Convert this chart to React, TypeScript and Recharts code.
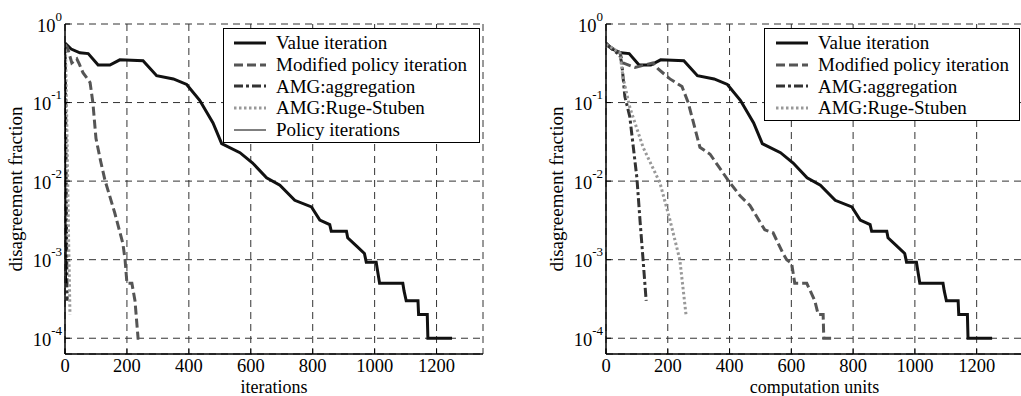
import React from 'react';
import { LineChart, Line, XAxis, YAxis, CartesianGrid, Legend } from 'recharts';

const FONT = '"Liberation Serif", "Times New Roman", serif';

// ---- axes ----
const X_DOMAIN = [0, 1350];
const X_TICKS = [0, 200, 400, 600, 800, 1000, 1200];
const X_TOP_TICKS = [200, 400, 600, 800, 1000, 1200];
const Y_DOMAIN = [6.3e-5, 1];
const Y_TICKS = [1e-4, 1e-3, 1e-2, 1e-1, 1];
const Y_MINOR_TICKS = [
  7e-5, 8e-5, 9e-5,
  2e-4, 3e-4, 4e-4, 5e-4, 6e-4, 7e-4, 8e-4, 9e-4,
  2e-3, 3e-3, 4e-3, 5e-3, 6e-3, 7e-3, 8e-3, 9e-3,
  2e-2, 3e-2, 4e-2, 5e-2, 6e-2, 7e-2, 8e-2, 9e-2,
  0.2, 0.3, 0.4, 0.5, 0.6, 0.7, 0.8, 0.9,
];

// ---- Value iteration (same in iterations and computation units) ----
const VI_X = [0, 20, 48, 75, 107, 145, 177, 252, 296, 350, 393, 435, 478, 506, 565, 606, 651, 694, 742, 796, 823, 855, 860, 909, 913, 941, 967, 973, 1005, 1016, 1091, 1095, 1102, 1140, 1142, 1170, 1172, 1250];
const VI_Y = [0.57, 0.48, 0.43, 0.42, 0.30, 0.30, 0.35, 0.34, 0.22, 0.20, 0.17, 0.107, 0.055, 0.030, 0.023, 0.017, 0.011, 0.0089, 0.0057, 0.0047, 0.0032, 0.0028, 0.0023, 0.0023, 0.0019, 0.0015, 0.0012, 0.00093, 0.00093, 0.0005, 0.0005, 0.0004, 0.0003, 0.0003, 0.0002, 0.0002, 0.0001, 0.0001];

// ---- Left chart (iterations) ----
const MPI_X_IT = [0, 8, 22, 38, 46, 58, 81, 90, 100, 115, 129, 161, 187, 194, 200, 216, 226, 236, 240];
const MPI_Y_IT = [0.55, 0.5, 0.32, 0.36, 0.31, 0.24, 0.18, 0.10, 0.035, 0.018, 0.0103, 0.0039, 0.0016, 0.001, 0.0005, 0.0005, 0.0003, 0.0001, 0.0001];
const AGG_X_IT = [0, 1, 2, 3, 4, 5, 6, 7];
const AGG_Y_IT = [0.55, 0.35, 0.1, 0.03, 0.008, 0.002, 0.0007, 0.0003];
const RS_X_IT = [0, 2, 4, 6, 8, 10, 12, 14, 16];
const RS_Y_IT = [0.55, 0.4, 0.15, 0.05, 0.015, 0.005, 0.0015, 0.0006, 0.0002];
const PI_X_IT = [0, 1, 2, 3, 4, 5];
const PI_Y_IT = [0.55, 0.12, 0.02, 0.004, 0.001, 0.0005];

// ---- Right chart (computation units) ----
const MPI_X_CU = [0, 45, 55, 94, 152, 168, 207, 246, 266, 304, 337, 395, 434, 466, 514, 541, 573, 585, 601, 611, 650, 676, 687, 703, 705, 731];
const MPI_Y_CU = [0.55, 0.43, 0.32, 0.28, 0.32, 0.27, 0.20, 0.16, 0.10, 0.027, 0.022, 0.0103, 0.0065, 0.0049, 0.0024, 0.0022, 0.0012, 0.001, 0.0009, 0.0005, 0.0005, 0.0003, 0.0002, 0.0002, 0.0001, 0.0001];
const AGG_X_CU = [0, 45, 51, 61, 77, 100, 110, 120, 130];
const AGG_Y_CU = [0.55, 0.40, 0.32, 0.12, 0.066, 0.011, 0.0032, 0.001, 0.0003];
const RS_X_CU = [0, 45, 55, 77, 120, 175, 207, 239, 259];
const RS_Y_CU = [0.55, 0.43, 0.21, 0.087, 0.027, 0.0094, 0.0032, 0.001, 0.0002];

const STYLES: Record<string, { stroke: string; width: number; dash?: string }> = {
  'Value iteration': { stroke: '#111', width: 3 },
  'Modified policy iteration': { stroke: '#555', width: 3, dash: '9 4' },
  'AMG:aggregation': { stroke: '#333', width: 3, dash: '9 3 3 3' },
  'AMG:Ruge-Stuben': { stroke: '#999', width: 3, dash: '2.5 2.5' },
  'Policy iterations': { stroke: '#000', width: 1 },
};

const toData = (xs: number[], ys: number[]) => xs.map((x, i) => ({ x, y: ys[i] }));

const EmptyTick = () => <g />;

function YMajorTick(props: any) {
  const { x, y, payload } = props;
  const exp = String(Math.round(Math.log10(payload.value)));
  return (
    <g>
      <line x1={x} y1={y} x2={x + 5} y2={y} stroke="#000" strokeWidth={1} />
      <text x={x - 3} y={y + 7.5} textAnchor="end" fontFamily={FONT} fontSize={18.5} fill="#000">
        10<tspan dy={-11} fontSize={13}>{exp}</tspan>
      </text>
    </g>
  );
}

function XMajorTick(props: any) {
  const { x, y, payload } = props;
  return (
    <g>
      <line x1={x} y1={y} x2={x} y2={y - 5} stroke="#000" strokeWidth={1} />
      <text x={x} y={y + 18} textAnchor="middle" fontFamily={FONT} fontSize={18.5} fill="#000">
        {payload.value}
      </text>
    </g>
  );
}

function YTitle(props: any) {
  const vb = props.viewBox || { x: 0, y: 24, width: 65, height: 330 };
  const cx = vb.x + 15;
  const cy = vb.y + vb.height / 2;
  return (
    <text x={cx} y={cy} transform={`rotate(-90 ${cx} ${cy})`} textAnchor="middle" dominantBaseline="central" fontFamily={FONT} fontSize={19} fill="#000">
      disagreement fraction
    </text>
  );
}

function makeXTitle(text: string) {
  return function XTitle(props: any) {
    const vb = props.viewBox || { x: 65, y: 354, width: 418, height: 42 };
    return (
      <text x={vb.x + vb.width / 2} y={vb.y + 38.5} textAnchor="middle" fontFamily={FONT} fontSize={18} fill="#000">
        {text}
      </text>
    );
  };
}

type Series = { name: string; xs: number[]; ys: number[] };

function makeLegend(series: Series[], width: number, height: number, sampleLeft: number) {
  return function LegendBox() {
    return (
      <div style={{ boxSizing: 'border-box', width, height, border: '1.5px solid #000', background: '#fff', paddingTop: 3 }}>
        {series.map((entry) => {
          const s = STYLES[entry.name];
          return (
            <div key={entry.name} style={{ display: 'flex', alignItems: 'center', height: 21.7 }}>
              <svg width={sampleLeft + 42} height={10} style={{ flex: 'none' }}>
                <line x1={sampleLeft} x2={sampleLeft + 32} y1={5} y2={5} stroke={s.stroke} strokeWidth={s.width} strokeDasharray={s.dash} />
              </svg>
              <span style={{ fontFamily: FONT, fontSize: 19, lineHeight: '21px', whiteSpace: 'nowrap', color: '#000' }}>{entry.name}</span>
            </div>
          );
        })}
      </div>
    );
  };
}

function Panel(props: { width: number; left: number; marginLeft: number; xTitle: string; series: Series[]; legend: { left: number; top: number; width: number; height: number; sample: number } }) {
  const { width, left, marginLeft, xTitle, series, legend } = props;
  const XTitle = makeXTitle(xTitle);
  const LegendBox = makeLegend(series, legend.width, legend.height, legend.sample);
  return (
    <div style={{ position: 'absolute', left, top: 0 }}>
      <LineChart width={width} height={396} margin={{ top: 24, right: 17, bottom: 0, left: marginLeft }}>
        <CartesianGrid xAxisId="x" yAxisId="y" stroke="#333" strokeWidth={1} strokeDasharray="7 5" />
        <XAxis xAxisId="x" dataKey="x" type="number" domain={X_DOMAIN} ticks={X_TICKS} interval={0} allowDataOverflow height={42} tickSize={0} tickMargin={0} tickLine={false} tick={XMajorTick} axisLine={{ stroke: '#000', strokeWidth: 1.5 }} label={<XTitle />} />
        <XAxis xAxisId="xt" orientation="top" mirror type="number" domain={X_DOMAIN} ticks={X_TOP_TICKS} interval={0} allowDataOverflow height={0} tickSize={5} tick={EmptyTick} tickLine={{ stroke: '#000' }} axisLine={{ stroke: '#000', strokeWidth: 1.5 }} />
        <YAxis yAxisId="y" type="number" scale="log" domain={Y_DOMAIN} ticks={Y_TICKS} interval={0} allowDataOverflow width={65} tickSize={0} tickMargin={0} tickLine={false} tick={YMajorTick} axisLine={{ stroke: '#000', strokeWidth: 1.5 }} label={<YTitle />} />
        <YAxis yAxisId="ym" mirror type="number" scale="log" domain={Y_DOMAIN} ticks={Y_MINOR_TICKS} interval={0} allowDataOverflow width={0} tickSize={3} tick={EmptyTick} tickLine={{ stroke: '#000' }} axisLine={false} />
        <YAxis yAxisId="yr" orientation="right" mirror type="number" scale="log" domain={Y_DOMAIN} ticks={Y_TICKS} interval={0} allowDataOverflow width={0} tickSize={5} tick={EmptyTick} tickLine={{ stroke: '#000' }} axisLine={{ stroke: '#000', strokeWidth: 1.5 }} />
        <YAxis yAxisId="yrm" orientation="right" mirror type="number" scale="log" domain={Y_DOMAIN} ticks={Y_MINOR_TICKS} interval={0} allowDataOverflow width={0} tickSize={3} tick={EmptyTick} tickLine={{ stroke: '#000' }} axisLine={false} />
        {series.map((s) => {
          const st = STYLES[s.name];
          return (
            <Line key={s.name} xAxisId="x" yAxisId="y" data={toData(s.xs, s.ys)} dataKey="y" name={s.name} type="linear" stroke={st.stroke} strokeWidth={st.width} strokeDasharray={st.dash} dot={false} activeDot={false} isAnimationActive={false} legendType="line" />
          );
        })}
        <Legend layout="horizontal" verticalAlign="middle" align="center" content={<LegendBox />} wrapperStyle={{ left: legend.left, top: legend.top, width: legend.width, height: legend.height }} />
      </LineChart>
    </div>
  );
}

const LEFT_SERIES: Series[] = [
  { name: 'Value iteration', xs: VI_X, ys: VI_Y },
  { name: 'Modified policy iteration', xs: MPI_X_IT, ys: MPI_Y_IT },
  { name: 'AMG:aggregation', xs: AGG_X_IT, ys: AGG_Y_IT },
  { name: 'AMG:Ruge-Stuben', xs: RS_X_IT, ys: RS_Y_IT },
  { name: 'Policy iterations', xs: PI_X_IT, ys: PI_Y_IT },
];

const RIGHT_SERIES: Series[] = [
  { name: 'Value iteration', xs: VI_X, ys: VI_Y },
  { name: 'Modified policy iteration', xs: MPI_X_CU, ys: MPI_Y_CU },
  { name: 'AMG:aggregation', xs: AGG_X_CU, ys: AGG_Y_CU },
  { name: 'AMG:Ruge-Stuben', xs: RS_X_CU, ys: RS_Y_CU },
];

export default function App() {
  return (
    <div style={{ position: 'absolute', left: 0, top: 0, width: 1021, height: 396, overflow: 'hidden', background: '#fff' }}>
      <Panel width={500} left={0} marginLeft={0} xTitle="iterations" series={LEFT_SERIES} legend={{ left: 223, top: 28, width: 257, height: 115, sample: 10 }} />
      <Panel width={520} left={520} marginLeft={21} xTitle="computation units" series={RIGHT_SERIES} legend={{ left: 244, top: 28, width: 256, height: 93, sample: 11 }} />
    </div>
  );
}
